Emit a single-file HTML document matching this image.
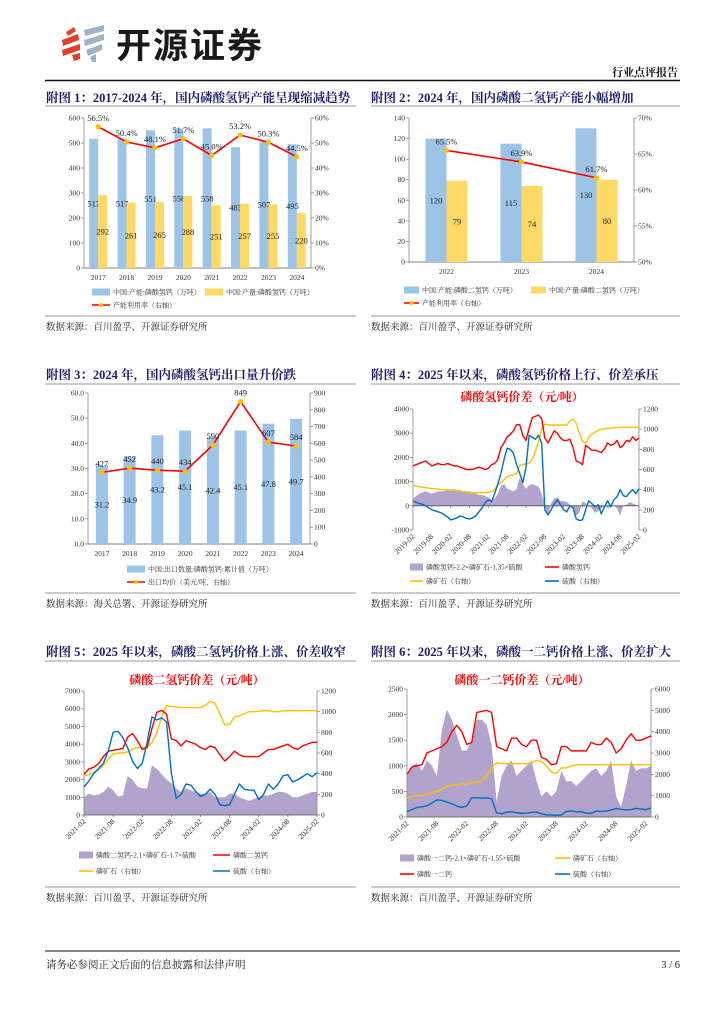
<!DOCTYPE html>
<html><head><meta charset="utf-8"><style>
html,body{margin:0;padding:0;background:#fff;}
svg{display:block;}
text{font-family:"Liberation Serif","Noto Serif CJK SC",serif;}
.t{font-size:12.5px;font-weight:bold;fill:#1c1c6b;}
.src{font-size:9.5px;fill:#222;}
.ct{font-size:12px;font-weight:bold;fill:#ff0000;}
.tk{font-size:7.5px;fill:#333;}
.lg{font-size:7px;fill:#333;}
.vl{font-size:8.5px;fill:#222;}
</style></head><body>
<svg id="pg" width="724" height="1024" viewBox="0 0 724 1024" xmlns="http://www.w3.org/2000/svg">
<g>
<polygon points="66,32 74,27 76,31 68,36" fill="#e2402c"/>
<polygon points="62,40 78,34 79,40 63,46" fill="#e2402c"/>
<polygon points="62,50 80,44 80,50 63,56" fill="#e2402c"/>
<polygon points="72,55 80,53 80,59 74,61" fill="#e2402c"/>
<polygon points="84,30 104,25 104,31 85,36" fill="#9fb4c5"/>
<polygon points="84,40 104,34 104,40 85,46" fill="#9fb4c5"/>
<polygon points="86,50 102,44 102,50 88,56" fill="#9fb4c5"/>
<polygon points="90,57 96,54 96,62 92,62" fill="#9fb4c5"/>
</g>
<text x="116" y="58" style="font-family:'Liberation Sans','Noto Sans CJK SC',sans-serif;font-size:35px;font-weight:bold;fill:#1a1a1a;letter-spacing:2px">开源证券</text>
<text x="678" y="76" text-anchor="end" style="font-size:11px;font-weight:bold;fill:#111">行业点评报告</text>
<line x1="45" y1="80.5" x2="680" y2="80.5" stroke="#111" stroke-width="1.5"/>

<text x="46" y="102" class="t">附图 1：2017-2024 年，国内磷酸氢钙产能呈现缩减趋势</text>
<line x1="45" y1="106" x2="356" y2="106" stroke="#777" stroke-width="0.8"/>
<text x="371" y="102" class="t">附图 2：2024 年，国内磷酸二氢钙产能小幅增加</text>
<line x1="371" y1="106" x2="680" y2="106" stroke="#777" stroke-width="0.8"/>
<line x1="45" y1="316" x2="356" y2="316" stroke="#777" stroke-width="0.8"/>
<line x1="371" y1="316" x2="680" y2="316" stroke="#777" stroke-width="0.8"/>
<text x="46" y="330" class="src">数据来源：百川盈孚、开源证券研究所</text>
<text x="371" y="330" class="src">数据来源：百川盈孚、开源证券研究所</text>

<text x="46" y="379" class="t">附图 3：2024 年，国内磷酸氢钙出口量升价跌</text>
<line x1="45" y1="384" x2="356" y2="384" stroke="#777" stroke-width="0.8"/>
<text x="371" y="379" class="t">附图 4：2025 年以来，磷酸氢钙价格上行、价差承压</text>
<line x1="371" y1="384" x2="680" y2="384" stroke="#777" stroke-width="0.8"/>
<line x1="45" y1="593" x2="356" y2="593" stroke="#777" stroke-width="0.8"/>
<line x1="371" y1="593" x2="680" y2="593" stroke="#777" stroke-width="0.8"/>
<text x="46" y="607" class="src">数据来源：海关总署、开源证券研究所</text>
<text x="371" y="607" class="src">数据来源：百川盈孚、开源证券研究所</text>

<text x="46" y="656" class="t">附图 5：2025 年以来，磷酸二氢钙价格上涨、价差收窄</text>
<line x1="45" y1="661" x2="356" y2="661" stroke="#777" stroke-width="0.8"/>
<text x="371" y="656" class="t">附图 6：2025 年以来，磷酸一二钙价格上涨、价差扩大</text>
<line x1="371" y1="661" x2="680" y2="661" stroke="#777" stroke-width="0.8"/>
<line x1="45" y1="887" x2="356" y2="887" stroke="#777" stroke-width="0.8"/>
<line x1="371" y1="887" x2="680" y2="887" stroke="#777" stroke-width="0.8"/>
<text x="46" y="901" class="src">数据来源：百川盈孚、开源证券研究所</text>
<text x="371" y="901" class="src">数据来源：百川盈孚、开源证券研究所</text>

<text x="522" y="401" text-anchor="middle" class="ct">磷酸氢钙价差（元/吨）</text>
<text x="197" y="684" text-anchor="middle" class="ct">磷酸二氢钙价差（元/吨）</text>
<text x="522" y="684" text-anchor="middle" class="ct">磷酸一二钙价差（元/吨）</text>

<line x1="45" y1="951" x2="680" y2="951" stroke="#111" stroke-width="1"/>
<text x="46" y="968" style="font-size:10.5px;fill:#222">请务必参阅正文后面的信息披露和法律声明</text>
<text x="680" y="968" text-anchor="end" style="font-size:10.5px;fill:#222">3 / 6</text>
</svg>
<script>
// ---------- Figure 1 data ----------
const f1Cats = ['2017','2018','2019','2020','2021','2022','2023','2024'];
const f1Capacity = [517,517,551,558,558,483,507,495];
const f1Output = [292,261,265,288,251,257,255,220];
const f1Rate = [56.5,50.4,48.1,51.7,45.0,53.2,50.3,44.5];
const f1LeftTicks = [0,100,200,300,400,500,600];
const f1RightTicks = [0,10,20,30,40,50,60];
// ---------- Figure 2 data ----------
const f2Cats = ['2022','2023','2024'];
const f2Capacity = [120,115,130];
const f2Output = [79,74,80];
const f2Rate = [65.5,63.9,61.7];
const f2LeftTicks = [0,20,40,60,80,100,120,140];
const f2RightTicks = [50,55,60,65,70];
// ---------- Figure 3 data ----------
const f3Cats = ['2017','2018','2019','2020','2021','2022','2023','2024'];
const f3Volume = [31.2,34.9,43.2,45.1,42.4,45.1,47.8,49.7];
const f3Price = [427,452,440,434,590,849,607,584];
const f3LeftTicks = [0,10,20,30,40,50,60];
const f3RightTicks = [0,100,200,300,400,500,600,700,800,900];
// ---------- Figure 4 data (monthly 2019-02 .. 2025-02) ----------
const f4Labels = ['2019-02','2019-08','2020-02','2020-08','2021-02','2021-08','2022-02','2022-08','2023-02','2023-08','2024-02','2024-08','2025-02'];
const f4Dcp = [1650,1700,1750,1800,1850,1750,1650,1700,1750,1700,1700,1750,1700,1650,1650,1600,1550,1500,1500,1500,1550,1600,1550,1500,1550,1700,1750,1900,2400,2600,2850,2950,3100,3350,3350,2900,2700,3200,3650,3700,3750,3600,2800,2600,2850,3100,3000,2800,2700,2700,2750,2400,1850,1800,1700,2500,2400,2300,2300,2250,2200,2350,2600,2500,2550,2700,2400,2500,2700,2650,2850,2700,2800];
const f4Rock = [440,435,430,425,420,415,410,410,405,400,400,400,395,395,390,385,380,375,370,370,370,370,370,370,375,380,400,450,470,500,530,540,550,560,640,650,655,660,700,780,880,1000,1050,1045,1040,1040,1040,1040,1040,1040,1080,1100,1060,960,880,860,920,950,970,990,1000,1005,1010,1010,1015,1015,1020,1020,1020,1020,1020,1020,1020];
const f4Acid = [285,275,265,255,240,220,200,190,180,170,150,130,100,110,120,140,130,115,110,120,140,180,220,270,300,280,360,450,560,700,810,800,760,650,560,470,620,940,920,900,940,860,200,150,200,260,300,250,200,180,240,220,110,95,100,200,290,260,230,250,160,230,290,230,300,330,400,340,330,370,400,360,410];
const f4Spread = [300,400,500,550,600,550,500,550,600,600,600,650,650,700,650,650,600,600,600,550,500,450,450,400,350,250,300,500,800,900,700,650,600,700,1150,900,700,850,900,850,800,500,0,-400,100,300,350,200,200,150,50,-100,-400,-300,200,100,0,-100,-300,-200,-100,0,-100,-50,0,-100,-400,0,50,150,100,50,0];
const f4LeftTicks = [-1000,0,1000,2000,3000,4000];
const f4RightTicks = [0,200,400,600,800,1000,1200];
// ---------- Figure 5 data (monthly 2021-02 .. 2025-02) ----------
const f5Labels = ['2021-02','2021-08','2022-02','2022-08','2023-02','2023-08','2024-02','2024-08','2025-02'];
const f5Mdcp = [2300,2600,2700,2900,3300,3600,3650,3700,3750,4400,4600,4200,3700,3800,4900,5800,5900,5700,4300,4200,3900,4200,4100,4000,3800,3700,3900,3800,3400,3050,3300,3600,3400,3300,3300,3300,3300,3500,3700,3700,3800,3900,4000,3800,3700,3900,4000,4100,4100];
const f5Rock = [380,390,410,440,480,540,590,600,600,610,640,650,650,660,700,800,950,1060,1050,1045,1040,1040,1040,1040,1040,1060,1100,1080,980,870,880,950,960,980,1000,1000,1005,1010,1010,1000,1000,1010,1010,1010,1010,1010,1010,1010,1010];
const f5Acid = [270,330,400,450,500,620,800,810,750,650,520,450,500,700,950,920,940,900,400,160,200,300,290,230,180,200,250,200,100,90,100,200,300,250,240,240,150,200,300,250,300,380,390,320,340,370,400,370,410];
const f5Spread = [1000,1200,1100,1150,1300,1600,1400,1050,1100,2200,2000,1600,1500,1500,2800,2600,2300,2000,1800,1500,1300,1500,1400,1300,1200,1200,1300,1000,1000,1000,1200,1200,1000,900,800,900,1000,1100,1100,1200,1300,1300,1200,1000,1000,1100,1200,1300,1300];
const f5LeftTicks = [0,1000,2000,3000,4000,5000,6000,7000];
const f5RightTicks = [0,200,400,600,800,1000,1200];
// ---------- Figure 6 data (monthly 2021-02 .. 2025-03) ----------
const f6Labels = ['2021-02','2021-08','2022-02','2022-08','2023-02','2023-08','2024-02','2024-08','2025-02'];
const f6Mdcp = [2000,2350,2400,2450,3000,3100,3200,3300,3500,4000,4300,4000,3400,3500,4900,4950,5000,4900,3300,3200,3100,3700,3700,3400,3300,3600,3600,2800,2700,2450,2500,3300,3300,3100,3100,3100,3100,3500,3400,3400,3700,3500,3000,3200,3600,3900,3600,3600,3700,3800];
const f6Rock = [900,950,1000,1000,1050,1150,1200,1300,1450,1500,1500,1550,1550,1600,1650,1700,1900,2300,2550,2500,2500,2500,2500,2500,2500,2550,2650,2600,2400,2100,2050,2300,2300,2400,2450,2450,2450,2450,2450,2450,2450,2450,2450,2450,2450,2450,2450,2450,2450,2450];
const f6Acid = [250,350,450,480,530,650,800,780,700,620,520,450,520,900,900,880,900,850,200,150,220,250,200,170,180,220,230,150,100,90,80,100,260,280,250,250,180,170,280,260,280,330,400,360,330,350,400,380,350,420];
const f6Spread = [800,1000,1050,900,1100,1000,800,1700,2100,1900,1600,1300,1300,1500,1900,1900,1800,1400,300,800,1000,1100,800,900,1000,1100,700,400,500,400,500,900,700,700,600,700,800,900,950,800,900,1100,400,200,600,1100,900,950,950,1000];
const f6LeftTicks = [0,500,1000,1500,2000,2500];
const f6RightTicks = [0,1000,2000,3000,4000,5000,6000];

const NS = 'http://www.w3.org/2000/svg';
const svg = document.getElementById('pg');
const C = {blue:'#9dc3e6', yellow:'#ffd966', red:'#ff0000', line:'#ffc000', acid:'#0070c0', purple:'#b1a3cb', axis:'#888'};

function mk(tag, attrs, parent){
  const e = document.createElementNS(NS, tag);
  for (const k in attrs) e.setAttribute(k, attrs[k]);
  (parent || svg).appendChild(e);
  return e;
}
function lin(v, d0, d1, p0, p1){ return p0 + (v - d0) / (d1 - d0) * (p1 - p0); }

function axes(g, cfg){
  const {L,R,T,B,lt,rt,lfmt,rfmt,y0} = cfg;
  const lmin = lt[0], lmax = lt[lt.length-1], rmin = rt[0], rmax = rt[rt.length-1];
  const la = mk('line',{x1:L,y1:T,x2:L,y2:B,stroke:C.axis,'stroke-width':0.8},g);
  
  
  const ra = mk('line',{x1:R,y1:T,x2:R,y2:B,stroke:C.axis,'stroke-width':0.8},g);
  
  
  const by = (y0 !== undefined) ? y0 : B;
  const xa = mk('line',{x1:L,y1:by,x2:R,y2:by,stroke:'#555','stroke-width':0.8},g);
  
  
  lt.forEach(v=>{
    const y = lin(v,lmin,lmax,B,T);
    mk('line',{x1:L-3,y1:y,x2:L,y2:y,stroke:C.axis,'stroke-width':0.8},g);
    const t = mk('text',{x:L-4,y:y+2.5,'text-anchor':'end',class:'tk'},g);
    t.textContent = lfmt(v);
    
    
  });
  rt.forEach(v=>{
    const y = lin(v,rmin,rmax,B,T);
    mk('line',{x1:R,y1:y,x2:R+3,y2:y,stroke:C.axis,'stroke-width':0.8},g);
    const t = mk('text',{x:R+4,y:y+2.5,'text-anchor':'start',class:'tk'},g);
    t.textContent = rfmt(v);
    
    
  });
}

function legendSwatch(g, kind, x, y, w, color){
  if (kind === 'rect') return mk('rect',{x:x,y:y-3.5,width:w,height:7,fill:color},g);
  const l = mk('line',{x1:x,y1:y,x2:x+w,y2:y,stroke:color,'stroke-width':1.6},g);
  return l;
}
function legendText(g, x, y, s){
  const t = mk('text',{x:x,y:y+2.5,class:'lg'},g);
  t.textContent = s;
  return t;
}

// ===== Bar + line category charts =====
function barChart(name, cfg){
  const g = mk('g',{});
  
  
  axes(g, cfg);
  const {L,R,T,B,lt,rt,cats} = cfg;
  const lmin=lt[0], lmax=lt[lt.length-1], rmin=rt[0], rmax=rt[rt.length-1];
  const cw = (R-L)/cats.length;
  const pts = [];
  cats.forEach((c,i)=>{
    const cx = L + cw*(i+0.5);
    const xt = mk('text',{x:cx,y:B+12,'text-anchor':'middle',class:'tk'},g);
    xt.textContent = c;
    
    
    cfg.bars.forEach((s,j)=>{
      const v = s.data[i];
      const bx = cfg.bars.length === 1 ? cx - cfg.bw/2 : cx - cfg.bw + j*cfg.bw;
      const y = lin(v,lmin,lmax,B,T);
      const r = mk('rect',{x:bx,y:y,width:cfg.bw,height:B-y,fill:s.color},g);
      
      
      const vt = mk('text',{x:bx+cfg.bw/2,y:lin(v/2,lmin,lmax,B,T)+3,'text-anchor':'middle',class:'vl'},g);
      vt.textContent = s.fmt(v);
      
      
    });
    pts.push([cx, lin(cfg.line.data[i],rmin,rmax,B,T)]);
  });
  const pl = mk('polyline',{points:pts.map(p=>p.join(',')).join(' '),fill:'none',stroke:C.red,'stroke-width':1.6},g);
  
  
  pts.forEach((p,i)=>{
    const d = mk('circle',{cx:p[0],cy:p[1],r:2.6,fill:'#ffc000'},g);
    
    
    const t = mk('text',{x:p[0],y:p[1]-6,'text-anchor':'middle',class:'vl'},g);
    t.textContent = cfg.line.fmt(cfg.line.data[i]);
    
    
  });
  // legend
  cfg.legend.forEach(it=>{
    const lg = mk('g',{},g);
    
    
    legendSwatch(lg, it.kind, it.x, it.y, it.w, it.color);
    if (it.kind === 'line') mk('circle',{cx:it.x+it.w/2,cy:it.y,r:2,fill:'#ffc000'},lg);
    legendText(lg, it.x+it.w+3, it.y, it.text);
  });
}

barChart('figure1-chart',{
  L:84,R:311,T:118,B:268,lt:f1LeftTicks,rt:f1RightTicks,cats:f1Cats,bw:9,
  lfmt:v=>String(v), rfmt:v=>v+'%',
  bars:[{name:'capacity',data:f1Capacity,color:C.blue,fmt:v=>String(v)},{name:'output',data:f1Output,color:C.yellow,fmt:v=>String(v)}],
  line:{name:'utilization-rate',data:f1Rate,fmt:v=>v.toFixed(1)+'%'},
  legend:[
    {kind:'rect',x:92,y:292,w:18,color:C.blue,text:'中国:产能:磷酸氢钙（万吨）'},
    {kind:'rect',x:205,y:292,w:18,color:C.yellow,text:'中国:产量:磷酸氢钙（万吨）'},
    {kind:'line',x:92,y:305,w:18,color:C.red,text:'产能利用率（右轴）'}]
});
barChart('figure2-chart',{
  L:409,R:634,T:118,B:262,lt:f2LeftTicks,rt:f2RightTicks,cats:f2Cats,bw:21,
  lfmt:v=>String(v), rfmt:v=>v+'%',
  bars:[{name:'capacity',data:f2Capacity,color:C.blue,fmt:v=>String(v)},{name:'output',data:f2Output,color:C.yellow,fmt:v=>String(v)}],
  line:{name:'utilization-rate',data:f2Rate,fmt:v=>v.toFixed(1)+'%'},
  legend:[
    {kind:'rect',x:404,y:290,w:15,color:C.blue,text:'中国:产能:磷酸二氢钙（万吨）'},
    {kind:'rect',x:531,y:290,w:15,color:C.yellow,text:'中国:产量:磷酸二氢钙（万吨）'},
    {kind:'line',x:404,y:303,w:15,color:C.red,text:'产能利用率（右轴）'}]
});
barChart('figure3-chart',{
  L:88,R:310,T:393,B:544,lt:f3LeftTicks,rt:f3RightTicks,cats:f3Cats,bw:12,
  lfmt:v=>v.toFixed(1), rfmt:v=>String(v),
  bars:[{name:'export-volume',data:f3Volume,color:C.blue,fmt:v=>v.toFixed(1)}],
  line:{name:'export-price',data:f3Price,fmt:v=>String(v)},
  legend:[
    {kind:'rect',x:127,y:569,w:18,color:C.blue,text:'中国:出口数量:磷酸氢钙:累计值（万吨）'},
    {kind:'line',x:127,y:582,w:18,color:C.red,text:'出口均价（美元/吨，右轴）'}]
});

// ===== Time-series spread charts =====
function tsChart(name, cfg){
  const g = mk('g',{});
  
  
  const {L,R,T,B,lt,rt,n} = cfg;
  const lmin=lt[0], lmax=lt[lt.length-1], rmin=rt[0], rmax=rt[rt.length-1];
  const X = i => L + i*(R-L)/(n-1);
  const YL = v => lin(v,lmin,lmax,B,T);
  const YR = v => lin(v,rmin,rmax,B,T);
  const y0 = YL(0);
  // area
  let d = 'M'+X(0)+','+y0;
  cfg.spread.forEach((v,i)=>{ d += ' L'+X(i)+','+YL(v); });
  d += ' L'+X(cfg.spread.length-1)+','+y0+' Z';
  const ar = mk('path',{d:d,fill:C.purple,stroke:'none'},g);
  
  
  axes(g, Object.assign({}, cfg, {lfmt:v=>String(v), rfmt:v=>String(v), y0:y0}));
  const series = [
    {data:cfg.rock, color:C.line, y:YR, nm:'phosphate-rock-line'},
    {data:cfg.main, color:C.red, y:YL, nm:'product-price-line'},
    {data:cfg.acid, color:C.acid, y:YR, nm:'sulfuric-acid-line'}];
  series.forEach(s=>{
    const p = mk('polyline',{points:s.data.map((v,i)=>X(i)+','+s.y(v)).join(' '),fill:'none',stroke:s.color,'stroke-width':1.4,'stroke-linejoin':'round'},g);
    
    
  });
  cfg.labels.forEach((lb,k)=>{
    const x = X(k*cfg.step);
    mk('line',{x1:x,y1:y0,x2:x,y2:y0+2,stroke:'#555','stroke-width':0.6},g);
    const t = mk('text',{x:x+2,y:B+7,'text-anchor':'end',class:'tk',transform:'rotate(-45 '+(x+2)+' '+(B+7)+')'},g);
    t.textContent = lb;
    
    
  });
  cfg.legend.forEach(it=>{
    const lg = mk('g',{},g);
    
    
    legendSwatch(lg, it.kind, it.x, it.y, it.w, it.color);
    legendText(lg, it.x+it.w+3, it.y, it.text);
  });
}

tsChart('figure4-chart',{
  L:413,R:639,T:409,B:530,lt:f4LeftTicks,rt:f4RightTicks,n:f4Dcp.length,step:6,labels:f4Labels,
  spread:f4Spread,main:f4Dcp,rock:f4Rock,acid:f4Acid,
  legend:[
    {kind:'rect',x:410,y:567,w:13,color:C.purple,text:'磷酸氢钙-2.2×磷矿石-1.35×硫酸'},
    {kind:'line',x:545,y:567,w:14,color:C.red,text:'磷酸氢钙'},
    {kind:'line',x:410,y:581,w:13,color:C.line,text:'磷矿石（右轴）'},
    {kind:'line',x:545,y:581,w:14,color:C.acid,text:'硫酸（右轴）'}]
});
tsChart('figure5-chart',{
  L:84,R:317,T:691,B:815,lt:f5LeftTicks,rt:f5RightTicks,n:f5Mdcp.length,step:6,labels:f5Labels,
  spread:f5Spread,main:f5Mdcp,rock:f5Rock,acid:f5Acid,
  legend:[
    {kind:'rect',x:79,y:855,w:14,color:C.purple,text:'磷酸二氢钙-2.1×磷矿石-1.7×硫酸'},
    {kind:'line',x:213,y:855,w:17,color:C.red,text:'磷酸二氢钙'},
    {kind:'line',x:79,y:871,w:14,color:C.line,text:'磷矿石（右轴）'},
    {kind:'line',x:213,y:871,w:17,color:C.acid,text:'硫酸（右轴）'}]
});
// figure 6: price lines on right axis
(function(){
  const cfg = {L:407,R:651,T:689,B:817,lt:f6LeftTicks,rt:f6RightTicks,n:f6Mdcp.length,step:6,labels:f6Labels};
  const g = mk('g',{});
  
  
  const {L,R,T,B,lt,rt,n} = cfg;
  const X = i => L + i*(R-L)/(n-1);
  const YL = v => lin(v,lt[0],lt[lt.length-1],B,T);
  const YR = v => lin(v,rt[0],rt[rt.length-1],B,T);
  let d = 'M'+X(0)+','+B;
  f6Spread.forEach((v,i)=>{ d += ' L'+X(i)+','+YL(v); });
  d += ' L'+X(f6Spread.length-1)+','+B+' Z';
  const ar = mk('path',{d:d,fill:C.purple},g);
  
  
  axes(g, Object.assign({}, cfg, {lfmt:v=>String(v), rfmt:v=>String(v)}));
  [[f6Rock,C.line,'phosphate-rock-line'],[f6Mdcp,C.red,'product-price-line'],[f6Acid,C.acid,'sulfuric-acid-line']].forEach(s=>{
    const p = mk('polyline',{points:s[0].map((v,i)=>X(i)+','+YR(v)).join(' '),fill:'none',stroke:s[1],'stroke-width':1.4,'stroke-linejoin':'round'},g);
    
    
  });
  f6Labels.forEach((lb,k)=>{
    const x = X(k*cfg.step);
    const t = mk('text',{x:x+2,y:B+7,'text-anchor':'end',class:'tk',transform:'rotate(-45 '+(x+2)+' '+(B+7)+')'},g);
    t.textContent = lb;
    
    
  });
  [{kind:'rect',x:400,y:858,w:14,color:C.purple,text:'磷酸一二钙-2.1×磷矿石-1.55×硫酸'},
   {kind:'line',x:555,y:858,w:15,color:C.line,text:'磷矿石（右轴）'},
   {kind:'line',x:400,y:874,w:14,color:C.red,text:'磷酸一二钙'},
   {kind:'line',x:555,y:874,w:15,color:C.acid,text:'硫酸（右轴）'}].forEach(it=>{
    const lg = mk('g',{},g);
    
    
    legendSwatch(lg, it.kind, it.x, it.y, it.w, it.color);
    legendText(lg, it.x+it.w+3, it.y, it.text);
  });
})();
</script>
</body></html>
